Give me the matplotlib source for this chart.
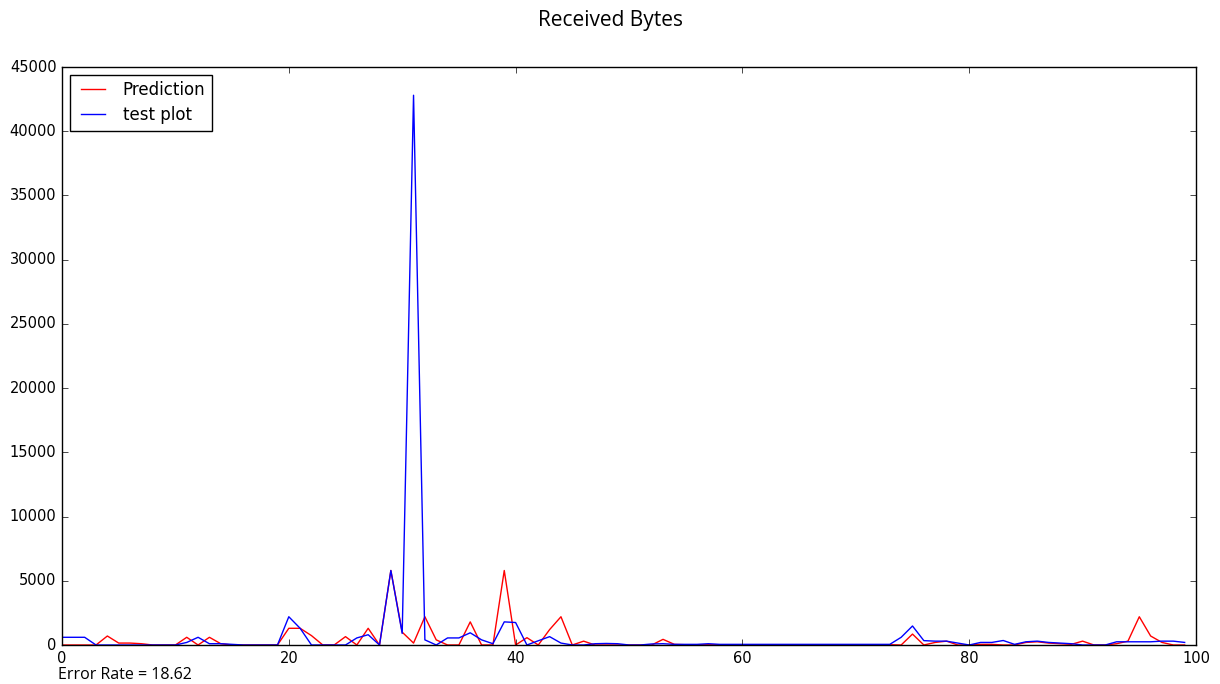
import matplotlib
matplotlib.use('Agg')
import matplotlib.pyplot as plt

# Received bytes per sample
prediction = [
    0, 0, 0, 0, 700, 150, 150, 100, 0, 0,
    0, 600, 0, 600, 100, 0, 0, 0, 0, 0,
    1300, 1300, 730, 0, 0, 650, 0, 1300, 0, 5800,
    1000, 150, 2200, 400, 0, 0, 1800, 0, 0, 5800,
    0, 570, 0, 1200, 2200, 0, 300, 0, 0, 0,
    0, 0, 0, 440, 50, 20, 20, 20, 20, 20,
    20, 20, 20, 20, 20, 20, 20, 20, 20, 20,
    20, 20, 20, 20, 0, 850, 0, 200, 300, 0,
    0, 50, 50, 0, 0, 200, 250, 150, 100, 50,
    300, 0, 0, 100, 300, 2200, 700, 200, 0, 0,
]
test_plot = [
    600, 600, 600, 0, 0, 0, 0, 0, 0, 0,
    0, 200, 600, 100, 100, 50, 0, 0, 0, 0,
    2200, 1300, 0, 0, 0, 0, 550, 800, 0, 5800,
    900, 42800, 400, 0, 550, 550, 950, 400, 100, 1800,
    1750, 0, 330, 650, 150, 0, 0, 100, 120, 100,
    0, 0, 80, 100, 50, 50, 50, 100, 50, 50,
    50, 50, 50, 50, 50, 50, 50, 50, 50, 50,
    50, 50, 50, 50, 600, 1480, 340, 300, 300, 150,
    0, 200, 200, 350, 50, 250, 300, 200, 150, 100,
    0, 0, 0, 250, 250, 250, 250, 300, 300, 200,
]
error_rate = 18.62

plt.style.use('classic')
fig = plt.figure(figsize=(12.2, 6.84), dpi=100, facecolor='white')
ax = fig.add_axes([62/1220, 1 - 645/684, (1196 - 62)/1220, (645 - 67)/684])

x = list(range(len(prediction)))
ax.plot(x, prediction, color='r', linewidth=1, label='Prediction')
ax.plot(x, test_plot, color='b', linewidth=1, label='test plot')

ax.set_xlim(0, 100)
ax.set_ylim(0, 45000)
ax.set_xticks(range(0, 101, 20))
ax.set_yticks(range(0, 45001, 5000))
ax.tick_params(labelsize=10.5)

leg = ax.legend(loc='upper left', fontsize=12, handlelength=2.0, handletextpad=0.8,
                borderaxespad=0.45, borderpad=0.4, labelspacing=0.4, frameon=True)
leg.get_frame().set_linewidth(1)

fig.suptitle('Received Bytes', fontsize=15, family='Open Sans', y=0.985)
fig.text(58/1220, 0.008, f'Error Rate = {error_rate}', fontsize=11.5, family='Open Sans')

fig.savefig('out.png', dpi=100, facecolor='white')
